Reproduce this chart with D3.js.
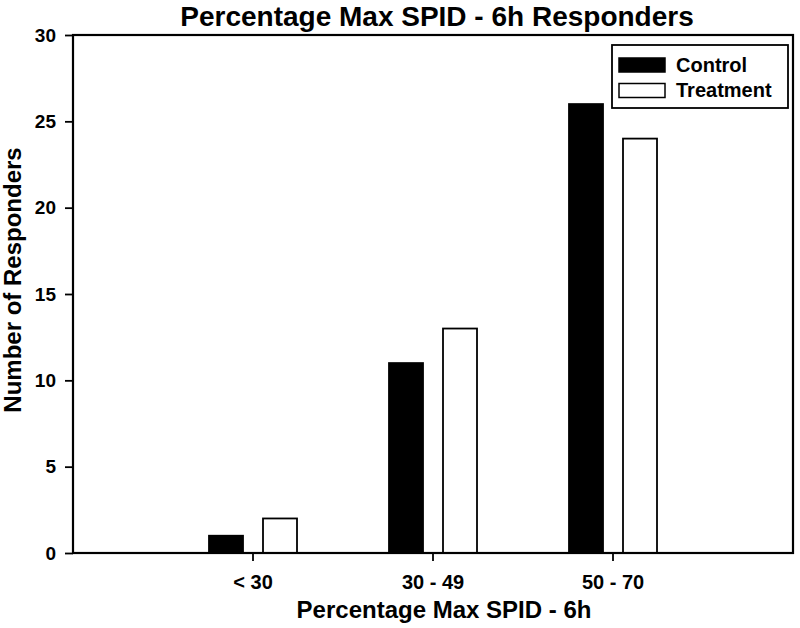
<!DOCTYPE html>
<html>
<head>
<meta charset="utf-8">
<script src="https://cdn.jsdelivr.net/npm/d3@7"></script>
<style>
  body { margin: 0; background: #fff; }
  text { font-family: "Liberation Sans", Arial, sans-serif; font-weight: bold; fill: #000; }
</style>
</head>
<body>
<svg id="chart" width="800" height="628"></svg>
<script>
// data
const categories = ["< 30", "30 - 49", "50 - 70"];
const series = ["Control", "Treatment"];
const controlValues = [1, 11, 26];
const treatmentValues = [2, 13, 24];
const yTicks = [0, 5, 10, 15, 20, 25, 30];

const svg = d3.select("#chart");

// plot frame
const plotLeft = 73, plotRight = 793, plotTop = 35, plotBottom = 553;
const barWidth = 34;

const x = d3.scaleBand()
    .domain(categories)
    .range([plotLeft + 90, plotRight - 90]);

const xSub = d3.scalePoint()
    .domain(series)
    .range([-27, 27]);

const y = d3.scaleLinear()
    .domain([0, 30])
    .range([plotBottom, plotTop]);

const fills = { Control: "#000", Treatment: "#fff" };

const rows = categories.map((c, i) => ({
    cat: c,
    Control: controlValues[i],
    Treatment: treatmentValues[i]
}));

// bars
rows.forEach((row) => {
    series.forEach((s) => {
        const cx = x(row.cat) + x.bandwidth() / 2 + xSub(s);
        svg.append("rect")
            .attr("x", cx - barWidth / 2)
            .attr("y", y(row[s]))
            .attr("width", barWidth)
            .attr("height", y(0) - y(row[s]))
            .attr("fill", fills[s])
            .attr("stroke", "#000")
            .attr("stroke-width", 1.8);
    });
});

// frame box
svg.append("rect")
    .attr("x", plotLeft)
    .attr("y", plotTop)
    .attr("width", plotRight - plotLeft)
    .attr("height", plotBottom - plotTop)
    .attr("fill", "none")
    .attr("stroke", "#000")
    .attr("stroke-width", 2.2);

// y axis
const leftAxis = d3.axisLeft(y).tickValues(yTicks).tickSize(8).tickPadding(9).tickSizeOuter(0);
const gy = svg.append("g")
    .attr("transform", "translate(" + plotLeft + ",0)")
    .call(leftAxis);
gy.select(".domain").remove();
gy.selectAll("line").attr("stroke-width", 1.8);
gy.selectAll("text")
    .style("font-size", "19px")
    .style("font-family", "Liberation Sans, Arial, sans-serif")
    .style("font-weight", "bold");

// x axis
const bottomAxis = d3.axisBottom(x).tickSize(8).tickPadding(14).tickSizeOuter(0);
const gx = svg.append("g")
    .attr("transform", "translate(0," + plotBottom + ")")
    .call(bottomAxis);
gx.select(".domain").remove();
gx.selectAll("line").attr("stroke-width", 1.8);
gx.selectAll("text")
    .style("font-size", "20px")
    .style("font-family", "Liberation Sans, Arial, sans-serif")
    .style("font-weight", "bold");

// title
svg.append("text")
    .attr("x", 437)
    .attr("y", 26)
    .attr("text-anchor", "middle")
    .style("font-size", "28px")
    .text("Percentage Max SPID - 6h Responders");

// x-axis label
svg.append("text")
    .attr("x", 444)
    .attr("y", 618)
    .attr("text-anchor", "middle")
    .style("font-size", "24px")
    .text("Percentage Max SPID - 6h");

// y-axis label, rotated to be vertical text
svg.append("text")
    .attr("transform", "translate(21," + 280 + ")rotate(-90)")
    .attr("text-anchor", "middle")
    .style("font-size", "24px")
    .text("Number of Responders");

// legend
const legend = svg.append("g");
legend.append("rect")
    .attr("x", 612)
    .attr("y", 45)
    .attr("width", 176)
    .attr("height", 63)
    .attr("fill", "#fff")
    .attr("stroke", "#000")
    .attr("stroke-width", 1.8);

series.forEach((s, i) => {
    legend.append("rect")
        .attr("x", 619)
        .attr("y", 58 + i * 25.5)
        .attr("width", 46)
        .attr("height", 14)
        .attr("fill", fills[s])
        .attr("stroke", "#000")
        .attr("stroke-width", 1.5);
    legend.append("text")
        .attr("x", 676)
        .attr("y", 72 + i * 25)
        .style("font-size", "20px")
        .text(s);
});
</script>
</body>
</html>
